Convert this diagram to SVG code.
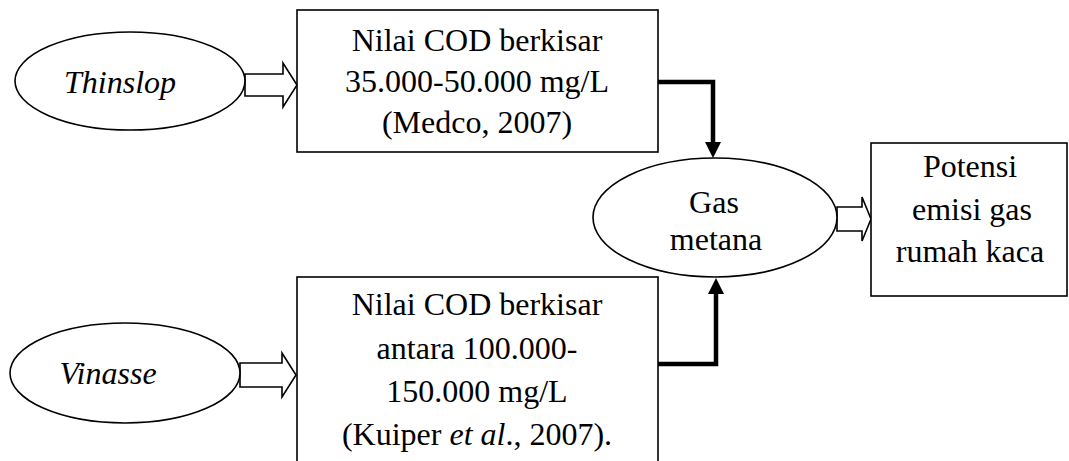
<svg xmlns="http://www.w3.org/2000/svg" width="1069" height="461" viewBox="0 0 1069 461">
<style>
.shape{fill:#fff;stroke:#000;stroke-width:1.6}
.t{font-family:"Liberation Serif","Times New Roman",serif;font-size:32px;fill:#000;text-anchor:middle}
.i{font-style:italic}
.conn{fill:none;stroke:#000;stroke-width:4.5}
.blk{fill:#fff;stroke:#000;stroke-width:1.6;stroke-linejoin:miter}
</style>
<defs>
<marker id="ah" markerUnits="userSpaceOnUse" markerWidth="16" markerHeight="16" viewBox="0 0 16 16" refX="16" refY="8" orient="auto">
<path d="M0,0 L16,8 L0,16 Z" fill="#000"/>
</marker>
</defs>
<rect width="1069" height="461" fill="#fff"/>
<g id="connectors">
<polyline class="conn" points="658,82 713,82 713,143" />
<path d="M705,142 L721,142 L713,158 Z" fill="#000"/>
<polyline class="conn" points="658,364 716,364 716,293" />
<path d="M708,294 L724,294 L716,278 Z" fill="#000"/>
<polygon class="blk" points="245,74 283,74 283,63 297,85 283,107 283,96 245,96"/>
<polygon class="blk" points="240,363 282,363 282,353 296,375 282,397 282,387 240,387"/>
<polygon class="blk" points="837,207 862,207 862,197 871,219 862,241 862,231 837,231"/>
</g>
<g id="thinslop">
<ellipse class="shape" cx="130" cy="81" rx="115" ry="49"/>
<text class="t i" x="120" y="93">Thinslop</text>
</g>
<g id="vinasse">
<ellipse class="shape" cx="125" cy="373" rx="115" ry="50"/>
<text class="t i" x="108" y="384">Vinasse</text>
</g>
<g id="box-medco">
<rect class="shape" x="297" y="10" width="361" height="142"/>
<text class="t" x="477" y="51">Nilai COD berkisar</text>
<text class="t" x="477" y="92">35.000-50.000 mg/L</text>
<text class="t" x="477" y="133">(Medco, 2007)</text>
</g>
<g id="box-kuiper">
<rect class="shape" x="297" y="277" width="361" height="200"/>
<text class="t" x="477" y="315">Nilai COD berkisar</text>
<text class="t" x="477" y="359">antara 100.000-</text>
<text class="t" x="477" y="402">150.000 mg/L</text>
<text class="t" x="477" y="445">(Kuiper <tspan class="i">et al</tspan>., 2007).</text>
</g>
<g id="gas-metana">
<ellipse class="shape" cx="715" cy="217.5" rx="122" ry="59.5"/>
<text class="t" x="714" y="213">Gas</text>
<text class="t" x="716" y="250">metana</text>
</g>
<g id="potensi">
<rect class="shape" x="871" y="143" width="196" height="153"/>
<text class="t" x="970" y="177">Potensi</text>
<text class="t" x="972" y="220">emisi gas</text>
<text class="t" x="970" y="262">rumah kaca</text>
</g>
</svg>
